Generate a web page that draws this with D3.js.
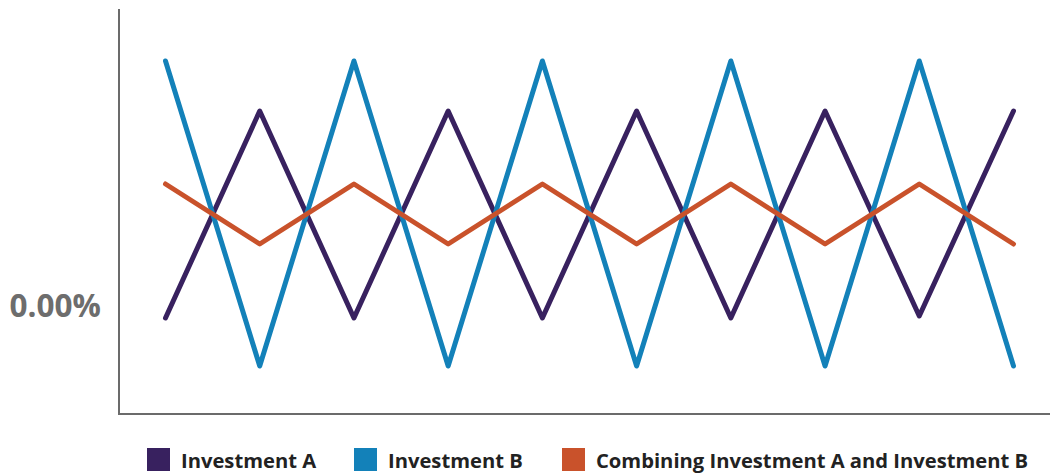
<!DOCTYPE html>
<html>
<head>
<meta charset="utf-8">
<script src="https://cdn.jsdelivr.net/npm/d3@7"></script>
<style>
  html, body { margin: 0; padding: 0; background: #fff; }
  svg { display: block; }
</style>
</head>
<body>
<svg id="chart" width="1050" height="475"></svg>
<script>
// ---- data ----
const periods = ["P1","P2","P3","P4","P5","P6","P7","P8","P9","P10"];
const investmentA = [-1.4, 19.3, -1.4, 19.3, -1.4, 19.3, -1.4, 19.3, -1.2, 19.3];
const investmentB = [24.3, -6.2, 24.3, -6.2, 24.3, -6.2, 24.3, -6.2, 24.3, -6.2];
const combined    = [12.0, 6.0, 12.0, 6.0, 12.0, 6.0, 12.0, 6.0, 12.0, 6.0];
const yTicks = [0];
const seriesNames = ["Investment A", "Investment B", "Combining Investment A and Investment B"];
const seriesColors = ["#38215f", "#1381b9", "#c9522b"];

const svg = d3.select("#chart");

const x = d3.scalePoint().domain(periods).range([165.5, 1013.5]);
const y = d3.scaleLinear().domain([0, 10]).range([304, 204]);

// axes lines
const axisColor = "#6b6b6b";
svg.append("line").attr("x1", 119).attr("x2", 119).attr("y1", 9).attr("y2", 415)
  .attr("stroke", axisColor).attr("stroke-width", 2);
svg.append("line").attr("x1", 118).attr("x2", 1050).attr("y1", 414).attr("y2", 414)
  .attr("stroke", axisColor).attr("stroke-width", 2);

// y tick label
svg.selectAll("text.ytick").data(yTicks).enter().append("text")
  .attr("class", "ytick")
  .attr("x", 101).attr("y", d => y(d))
  .attr("text-anchor", "end").attr("dominant-baseline", "central")
  .attr("font-family", "'Open Sans', sans-serif").attr("font-weight", 700)
  .attr("font-size", 31.5).attr("fill", "#6d6d6d")
  .text(d => d3.format(".2f")(d) + "%");

// lines
const line = d3.line().x((d, i) => x(periods[i])).y(d => y(d));
const allSeries = [investmentA, investmentB, combined];
svg.selectAll("path.series").data(allSeries).enter().append("path")
  .attr("class", "series")
  .attr("d", d => line(d))
  .attr("fill", "none")
  .attr("stroke", (d, i) => seriesColors[i])
  .attr("stroke-width", 5)
  .attr("stroke-linejoin", "round")
  .attr("stroke-linecap", "round");

// legend
const legendX = [147, 354, 562];
const lg = svg.selectAll("g.legend").data(seriesNames).enter().append("g")
  .attr("class", "legend")
  .attr("transform", (d, i) => `translate(${legendX[i]},448)`);
lg.append("rect").attr("width", 23).attr("height", 23)
  .attr("fill", (d, i) => seriesColors[i]);
lg.append("text").attr("x", 34).attr("y", 12)
  .attr("dominant-baseline", "central")
  .attr("font-family", "'Open Sans', sans-serif").attr("font-weight", 700)
  .attr("font-size", 20.2).attr("fill", "#222")
  .text(d => d);
</script>
</body>
</html>
